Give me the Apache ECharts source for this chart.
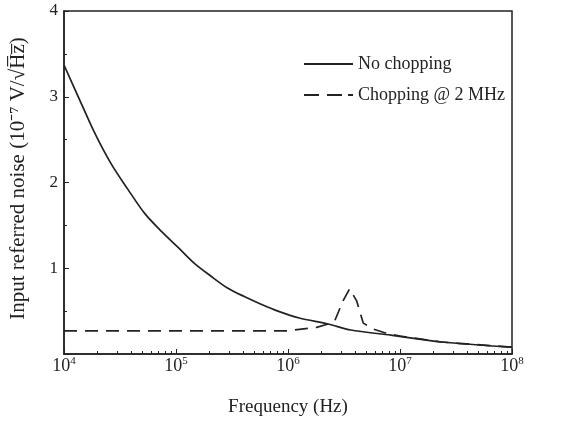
<!DOCTYPE html>
<html>
<head>
<meta charset="utf-8">
<script src="https://cdn.jsdelivr.net/npm/echarts@6/dist/echarts.min.js"></script>
<style>
html,body{margin:0;padding:0;background:#fff;}
#chart{width:569px;height:428px;}
</style>
</head>
<body>
<div id="chart"></div>
<script>
// Frequencies in Hz, noise in units of 1e-7 V/sqrt(Hz)
var noChopFreq = [1e4, 1.32e4, 1.86e4, 2.63e4, 3.72e4, 5.25e4, 7.41e4, 1.05e5, 1.45e5, 2.04e5, 2.88e5, 4.07e5, 5.75e5, 8.13e5, 1.26e6, 2.29e6, 3.63e6, 8.3e6, 2.34e7, 1e8];
var noChopVal  = [3.37, 3.02, 2.59, 2.22, 1.92, 1.64, 1.43, 1.24, 1.06, 0.91, 0.77, 0.67, 0.58, 0.50, 0.42, 0.35, 0.28, 0.22, 0.14, 0.08];

var chopFreq = [1e4, 1e6, 1.32e6, 1.8e6, 2.3e6, 2.6e6, 3.1e6, 3.55e6, 4.1e6, 4.7e6, 5.8e6, 7.2e6, 1e7, 2.34e7, 1e8];
var chopVal  = [0.27, 0.27, 0.29, 0.31, 0.35, 0.38, 0.62, 0.76, 0.62, 0.36, 0.29, 0.25, 0.21, 0.14, 0.08];

var xMinorTicks = [];
[1e4, 1e5, 1e6, 1e7].forEach(function (d) { for (var k = 2; k <= 9; k++) xMinorTicks.push(d * k); });
var xMajorTicks = [1e4, 1e5, 1e6, 1e7, 1e8];

var seriesNames = ['No chopping', 'Chopping @ 2 MHz'];
var xTitle = 'Frequency (Hz)';
var yTitle = 'Input referred noise (10\u207B\u2077 V/\u221AH\u0305z\u0305)';

function zip(a, b) { return a.map(function (v, i) { return [v, b[i]]; }); }

var font = 'Liberation Serif';
var ink = '#222';
var chart = echarts.init(document.getElementById('chart'));
chart.setOption({
  animation: false,
  backgroundColor: '#fff',
  textStyle: { fontFamily: font, color: ink },
  grid: { left: 63, right: 57, top: 11, bottom: 74, show: true, borderColor: ink, borderWidth: 1.5 },
  legend: {
    left: 299, top: 50, orient: 'vertical', itemWidth: 49, itemHeight: 2, itemGap: 13,
    textStyle: { fontFamily: font, fontSize: 18, color: ink },
    data: [
      { name: seriesNames[0], icon: 'path://M0,0h49v2h-49z' },
      { name: seriesNames[1], icon: 'path://M0,0h15v2h-15zM23,0h15v2h-15zM44,0h5v2h-5z' }
    ]
  },
  xAxis: [{
    type: 'log', logBase: 10, min: 1e4, max: 1e8,
    name: xTitle, nameLocation: 'middle', nameGap: 44,
    nameTextStyle: { fontFamily: font, fontSize: 19, color: ink },
    axisLine: { lineStyle: { color: ink, width: 1.5 } },
    axisTick: { inside: true, length: 5, lineStyle: { color: ink }, customValues: xMajorTicks },
    splitLine: { show: false },
    axisLabel: {
      margin: 2, customValues: xMajorTicks,
      formatter: function (v) { return '{b|10}{s|' + Math.round(Math.log10(v)) + '}'; },
      rich: {
        b: { fontFamily: font, fontSize: 18, color: ink },
        s: { fontFamily: font, fontSize: 11, color: ink, padding: [0, 0, 9, 0] }
      }
    }
  }, {
    type: 'log', logBase: 10, min: 1e4, max: 1e8, position: 'bottom', gridIndex: 0,
    axisLine: { show: false },
    axisTick: { inside: true, length: 3, lineStyle: { color: ink }, customValues: xMinorTicks },
    axisLabel: { show: false },
    splitLine: { show: false }
  }],
  yAxis: {
    type: 'value', min: 0, max: 4, interval: 1,
    name: yTitle, nameLocation: 'middle', nameGap: 35, nameRotate: 90,
    nameTextStyle: { fontFamily: font, fontSize: 21, color: ink, padding: [0, 0, 0, 8] },
    axisLine: { show: true, lineStyle: { color: ink, width: 1.5 } },
    axisTick: { show: true, inside: true, length: 5, lineStyle: { color: ink } },
    minorTick: { show: true, splitNumber: 2, length: 3, lineStyle: { color: ink } },
    splitLine: { show: false },
    axisLabel: {
      margin: 6, fontFamily: font, fontSize: 17, color: ink,
      formatter: function (v) { return v === 0 ? '' : String(v); }
    }
  },
  series: [{
    name: seriesNames[0], type: 'line', symbol: 'none', smooth: 0.3,
    lineStyle: { color: ink, width: 1.7 }, itemStyle: { color: ink },
    data: zip(noChopFreq, noChopVal)
  }, {
    name: seriesNames[1], type: 'line', symbol: 'none',
    lineStyle: { color: ink, width: 1.7, type: [13, 8] }, itemStyle: { color: ink },
    data: zip(chopFreq, chopVal)
  }]
});
</script>
</body>
</html>
